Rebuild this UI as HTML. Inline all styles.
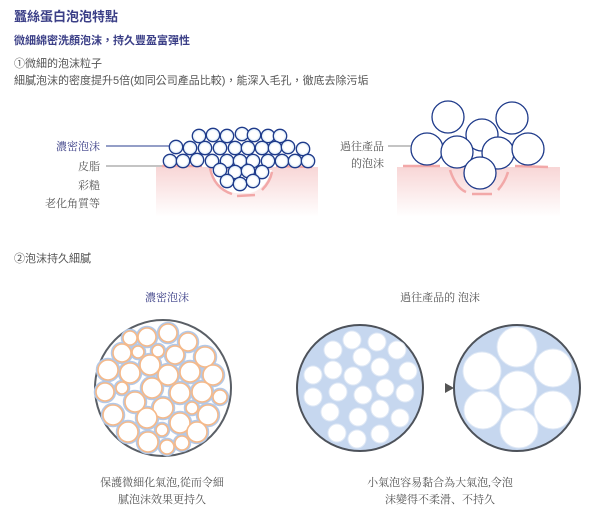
<!DOCTYPE html>
<html><head><meta charset="utf-8"><style>
body{margin:0;background:#fff;width:600px;height:519px;overflow:hidden}
svg{display:block}
.s{font-family:"Liberation Sans","Noto Sans CJK TC",sans-serif}
.r{font-family:"Liberation Serif","Noto Serif CJK SC",serif}
</style></head><body>
<svg width="600" height="519" viewBox="0 0 600 519">
<defs>
<linearGradient id="sk" x1="0" y1="0" x2="0" y2="1"><stop offset="0" stop-color="#f8d6d6"/><stop offset="1" stop-color="#fff" stop-opacity="1"/></linearGradient>
<radialGradient id="bb" cx="0.5" cy="0.5" r="0.5"><stop offset="0.6" stop-color="#fff"/><stop offset="1" stop-color="#cfe4f6"/></radialGradient>
</defs>
<text x="14" y="21" class="s" font-size="13" font-weight="bold" fill="#3b3f87">蠶絲蛋白泡泡特點</text>
<text x="14" y="44" class="s" font-size="11" font-weight="bold" fill="#3b3f87">微細綿密洗顏泡沫，持久豐盈富彈性</text>
<text x="14" y="67" class="s" font-size="11" fill="#555">①微細的泡沫粒子</text>
<text x="14" y="84" class="s" font-size="11" fill="#555">細膩泡沫的密度提升5倍(如同公司產品比較)，能深入毛孔，徹底去除污垢</text>

<!-- diagram 1 -->
<rect x="156" y="167" width="162" height="50" fill="url(#sk)"/>
<path d="M210 170 Q215 190 235 193 L250 193 Q265 190 272 170" fill="#fff"/>
<g fill="none" stroke="#f2a8a8" stroke-width="2.5">
<path d="M162 166 L202 166"/><path d="M210 168 Q214 188 232 194"/><path d="M237 196 L255 195"/><path d="M262 190 Q270 182 272 172"/><path d="M276 166 L312 167"/>
</g>
<g fill="url(#bb)" stroke="#1e3a8a" stroke-width="1.3">
<circle cx="199" cy="136" r="6.7"/><circle cx="213" cy="135" r="6.7"/><circle cx="227" cy="136" r="6.7"/><circle cx="242" cy="134" r="6.7"/><circle cx="254" cy="135" r="6.7"/><circle cx="268" cy="136" r="6.7"/><circle cx="280" cy="136" r="6.7"/>
<circle cx="176" cy="147" r="6.7"/><circle cx="190" cy="148" r="6.7"/><circle cx="205" cy="148" r="6.7"/><circle cx="220" cy="148" r="6.7"/><circle cx="235" cy="148" r="6.7"/><circle cx="248" cy="148" r="6.7"/><circle cx="262" cy="148" r="6.7"/><circle cx="275" cy="148" r="6.7"/><circle cx="288" cy="147" r="6.7"/><circle cx="303" cy="149" r="6.7"/>
<circle cx="170" cy="161" r="6.7"/><circle cx="183" cy="161" r="6.7"/><circle cx="197" cy="160" r="6.7"/><circle cx="212" cy="161" r="6.7"/><circle cx="227" cy="161" r="6.7"/><circle cx="240" cy="161" r="6.7"/><circle cx="253" cy="161" r="6.7"/><circle cx="268" cy="161" r="6.7"/><circle cx="282" cy="161" r="6.7"/><circle cx="295" cy="161" r="6.7"/><circle cx="308" cy="161" r="6.7"/>
<circle cx="220" cy="170" r="6.7"/><circle cx="235" cy="172" r="6.7"/><circle cx="248" cy="171" r="6.7"/><circle cx="262" cy="172" r="6.7"/>
<circle cx="227" cy="181" r="6.7"/><circle cx="240" cy="184" r="6.7"/><circle cx="253" cy="181" r="6.7"/>
</g>
<line x1="106" y1="146" x2="170" y2="146" stroke="#2a3d8f" stroke-width="1"/>
<line x1="106" y1="166" x2="162" y2="166" stroke="#888" stroke-width="1"/>
<g class="r" font-size="11" text-anchor="end" fill="#555">
<text x="100" y="150" fill="#3b3f87">濃密泡沫</text>
<text x="100" y="170">皮脂</text>
<text x="100" y="189">彩糙</text>
<text x="100" y="207">老化角質等</text>
</g>

<!-- diagram 2 -->
<rect x="397" y="167" width="163" height="50" fill="url(#sk)"/>
<g fill="none" stroke="#f2a8a8" stroke-width="2.5">
<path d="M403 166 L440 166"/><path d="M450 170 Q456 188 466 192"/><path d="M472 194 L492 194"/><path d="M498 190 Q505 182 508 172"/><path d="M515 166 L548 167"/>
</g>
<g fill="#fff" stroke="#1e3a8a" stroke-width="1.3">
<circle cx="448" cy="117" r="16"/><circle cx="512" cy="118" r="16"/><circle cx="482" cy="135" r="16"/><circle cx="427" cy="149" r="16"/><circle cx="498" cy="153" r="16"/><circle cx="528" cy="149" r="16"/><circle cx="457" cy="152" r="16"/><circle cx="480" cy="173" r="16"/>
</g>
<line x1="388" y1="146" x2="411" y2="146" stroke="#888" stroke-width="1"/>
<g class="r" font-size="11" text-anchor="end" fill="#555">
<text x="384" y="150">過往產品</text>
<text x="384" y="167">的泡沫</text>
</g>

<text x="14" y="262" class="s" font-size="11" fill="#555">②泡沫持久細膩</text>
<text x="167" y="301" class="r" font-size="11" fill="#3b3f87" text-anchor="middle">濃密泡沫</text>
<text x="440" y="301" class="r" font-size="11" fill="#555" text-anchor="middle">過往產品的 泡沫</text>

<!-- circle 1 -->
<circle cx="163" cy="388" r="68" fill="#fff" stroke="#5a5f66" stroke-width="2"/>
<g fill="#fff" stroke="#b3c9e8" stroke-width="4.5">
<circle cx="130" cy="338" r="7"/><circle cx="147" cy="337" r="9"/><circle cx="168" cy="333" r="9"/><circle cx="188" cy="342" r="9"/><circle cx="122" cy="353" r="9"/><circle cx="138" cy="352" r="6"/><circle cx="158" cy="351" r="6"/><circle cx="175" cy="355" r="9"/><circle cx="205" cy="357" r="10"/><circle cx="108" cy="370" r="10"/><circle cx="130" cy="373" r="10"/><circle cx="150" cy="365" r="10"/><circle cx="168" cy="375" r="10"/><circle cx="190" cy="372" r="10"/><circle cx="213" cy="375" r="10"/><circle cx="105" cy="392" r="9"/><circle cx="122" cy="388" r="6"/><circle cx="152" cy="388" r="10"/><circle cx="180" cy="393" r="10"/><circle cx="202" cy="392" r="10"/><circle cx="220" cy="397" r="7"/><circle cx="113" cy="415" r="10"/><circle cx="135" cy="402" r="10"/><circle cx="163" cy="408" r="10"/><circle cx="192" cy="408" r="6"/><circle cx="208" cy="415" r="10"/><circle cx="128" cy="432" r="10"/><circle cx="147" cy="418" r="10"/><circle cx="162" cy="430" r="6"/><circle cx="180" cy="423" r="10"/><circle cx="197" cy="432" r="10"/><circle cx="148" cy="442" r="10"/><circle cx="167" cy="447" r="7"/><circle cx="182" cy="443" r="7"/>
</g>
<g fill="#fff" stroke="#f5b98a" stroke-width="1.6">
<circle cx="130" cy="338" r="7"/><circle cx="147" cy="337" r="9"/><circle cx="168" cy="333" r="9"/><circle cx="188" cy="342" r="9"/><circle cx="122" cy="353" r="9"/><circle cx="138" cy="352" r="6"/><circle cx="158" cy="351" r="6"/><circle cx="175" cy="355" r="9"/><circle cx="205" cy="357" r="10"/><circle cx="108" cy="370" r="10"/><circle cx="130" cy="373" r="10"/><circle cx="150" cy="365" r="10"/><circle cx="168" cy="375" r="10"/><circle cx="190" cy="372" r="10"/><circle cx="213" cy="375" r="10"/><circle cx="105" cy="392" r="9"/><circle cx="122" cy="388" r="6"/><circle cx="152" cy="388" r="10"/><circle cx="180" cy="393" r="10"/><circle cx="202" cy="392" r="10"/><circle cx="220" cy="397" r="7"/><circle cx="113" cy="415" r="10"/><circle cx="135" cy="402" r="10"/><circle cx="163" cy="408" r="10"/><circle cx="192" cy="408" r="6"/><circle cx="208" cy="415" r="10"/><circle cx="128" cy="432" r="10"/><circle cx="147" cy="418" r="10"/><circle cx="162" cy="430" r="6"/><circle cx="180" cy="423" r="10"/><circle cx="197" cy="432" r="10"/><circle cx="148" cy="442" r="10"/><circle cx="167" cy="447" r="7"/><circle cx="182" cy="443" r="7"/>
</g>

<!-- circle 2 -->
<circle cx="360" cy="388" r="63" fill="#c6d7ef" stroke="#4d525a" stroke-width="2"/>
<g fill="#fff" stroke="#dfe8f5" stroke-width="1">
<circle cx="333" cy="350" r="9"/><circle cx="352" cy="340" r="9"/><circle cx="377" cy="342" r="9"/><circle cx="397" cy="350" r="9"/><circle cx="362" cy="357" r="9"/><circle cx="313" cy="375" r="9"/><circle cx="333" cy="370" r="9"/><circle cx="353" cy="376" r="9"/><circle cx="380" cy="367" r="9"/><circle cx="408" cy="371" r="9"/><circle cx="313" cy="397" r="9"/><circle cx="338" cy="392" r="9"/><circle cx="363" cy="395" r="9"/><circle cx="385" cy="388" r="9"/><circle cx="405" cy="393" r="9"/><circle cx="330" cy="412" r="9"/><circle cx="358" cy="417" r="9"/><circle cx="380" cy="409" r="9"/><circle cx="400" cy="418" r="9"/><circle cx="337" cy="433" r="9"/><circle cx="357" cy="439" r="9"/><circle cx="380" cy="434" r="9"/>
</g>
<polygon points="445,383 445,393 454,388" fill="#555"/>
<!-- circle 3 -->
<circle cx="517" cy="388" r="63" fill="#c6d7ef" stroke="#4d525a" stroke-width="2"/>
<g fill="#fff" stroke="#dfe8f5" stroke-width="1">
<circle cx="517" cy="347" r="20"/><circle cx="482" cy="371" r="19"/><circle cx="553" cy="368" r="19"/><circle cx="518" cy="390" r="19"/><circle cx="483" cy="410" r="19"/><circle cx="553" cy="410" r="19"/><circle cx="519" cy="429" r="19"/>
</g>

<g class="r" font-size="11" fill="#555" text-anchor="middle">
<text x="162" y="486">保護微細化氣泡,從而令細</text>
<text x="162" y="503">膩泡沫效果更持久</text>
<text x="440" y="486">小氣泡容易黏合為大氣泡,令泡</text>
<text x="440" y="503">沫變得不柔滑、不持久</text>
</g>
</svg>
</body></html>
